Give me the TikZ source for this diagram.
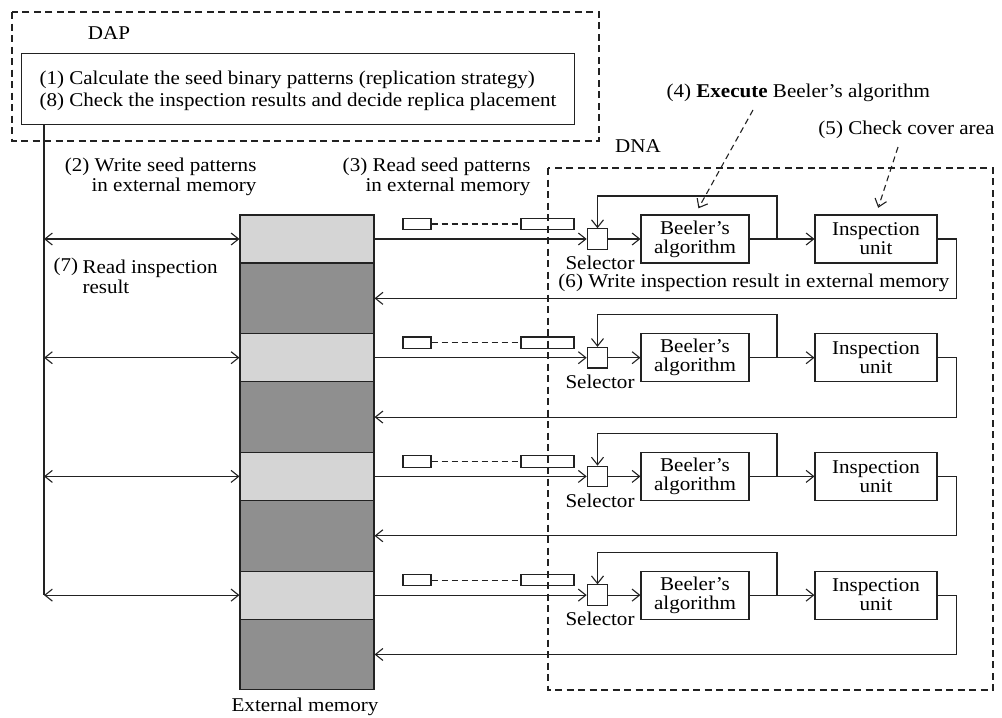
\documentclass[tikz,border=0pt]{standalone}
\usepackage{fontspec}
\setmainfont[FakeStretch=1.08]{Liberation Serif}
\usetikzlibrary{arrows.meta,calc}
\definecolor{memlightgray}{HTML}{D5D5D5}
\definecolor{memdarkgray}{HTML}{8F8F8F}
\definecolor{ink}{HTML}{222222}

\begin{document}
\begin{tikzpicture}[x=1pt,y=-1pt,line width=1.1pt,draw=ink,
  >={Straight Barb[length=7.5pt,width=12pt]},
  every node/.style={font=\fontsize{19.5}{20}\selectfont,inner sep=0pt,text=black},
  groupbox/.style={draw,dash pattern=on 7pt off 4.5pt},
  procbox/.style={draw,rectangle,minimum height=48pt,align=center,
    font=\fontsize{19.5}{19}\selectfont},
  selbox/.style={draw,rectangle,minimum size=20.5pt},
  seedbox/.style={draw,rectangle,minimum height=11.5pt},
  memlight/.style={draw,rectangle,fill=memlightgray,minimum width=134pt,minimum height=48pt},
  memdark/.style={draw,rectangle,fill=memdarkgray,minimum width=134pt,minimum height=70.7pt},
  hint/.style={dashed,dash pattern=on 6pt off 4pt,->,shorten >=7pt}]

\useasboundingbox (0,0) rectangle (1002,718);

% processor groups
\draw[groupbox] (12,12) rectangle (599,141);
\draw[groupbox] (548,168) rectangle (993,690);
\node (dap) at (109,33) {DAP};
\node (dna) at (638,146) {DNA};

% host box
\node[draw,rectangle,minimum width=553pt,minimum height=71pt,anchor=north west] (host) at (21,53) {};
\node[anchor=west,align=left,font=\fontsize{19.5}{22}\selectfont] (hosttext) at (39,91)
  {(1) Calculate the seed binary patterns (replication strategy)\\
   (8) Check the inspection results and decide replica placement};

% step labels
\node[anchor=east,align=right] (l2) at (257,177) {(2) Write seed patterns\\in external memory};
\node[anchor=east,align=right] (l3) at (531,177) {(3) Read seed patterns\\in external memory};
\node[anchor=west] (l7a) at (53,267) {(7)};
\node[anchor=west,align=left] (l7b) at (82,277) {Read inspection\\result};
\node[anchor=west] (l4) at (666,93) {(4) \textbf{Execute} Beeler’s algorithm};
\node[anchor=east] (l5) at (995,130) {(5) Check cover area};
\node[anchor=east] (l6) at (950,283) {(6) Write inspection result in external memory};
\node (extmem) at (305,707) {External memory};

% bus from the host down to the memory rows
\coordinate (vtop) at (44,124);

\foreach \k/\c in {1/239,2/357.7,3/476.4,4/595.1}{
  % memory segments
  \node[memlight] (ml\k) at (307,\c) {};
  \node[memdark] (md\k) at (307,\c+59.35) {};
  % seed pattern buffer
  \node[seedbox,minimum width=28pt] (ra\k) at (417,\c-15) {};
  \node[seedbox,minimum width=53pt] (rb\k) at (547.5,\c-15) {};
  \draw[dash pattern=on 6pt off 4pt] (ra\k.east) -- (rb\k.west);
  % processing chain
  \node[selbox] (s\k) at (597.5,\c) {};
  \node (sl\k) at (600,\c+24) {Selector};
  \node[procbox,minimum width=108pt] (b\k) at (695,\c) {Beeler’s\\algorithm};
  \node[procbox,minimum width=122pt] (i\k) at (876,\c) {Inspection\\unit};
  \coordinate (v\k) at (44,\c);
  \coordinate (j\k) at (777,\c);
  \draw[<->] (v\k) -- (ml\k.west);
  \draw[->] (ml\k.east) -- (s\k.west);
  \draw[->] (s\k.east) -- (b\k.west);
  \draw[->] (b\k.east) -- (i\k.west);
  \draw[->] (j\k) -- ++(0,-43) -| (s\k.north);
  \draw[->] (i\k.east) -- ++(19,0) |- (md\k.east);
}
\draw (vtop) -- (v4);

% annotation pointers
\coordinate (p4) at (753,110);
\coordinate (p5) at (898,147);
\draw[hint] (p4) -- (b1.north);
\draw[hint] (p5) -- (i1.north);
\end{tikzpicture}
\end{document}
